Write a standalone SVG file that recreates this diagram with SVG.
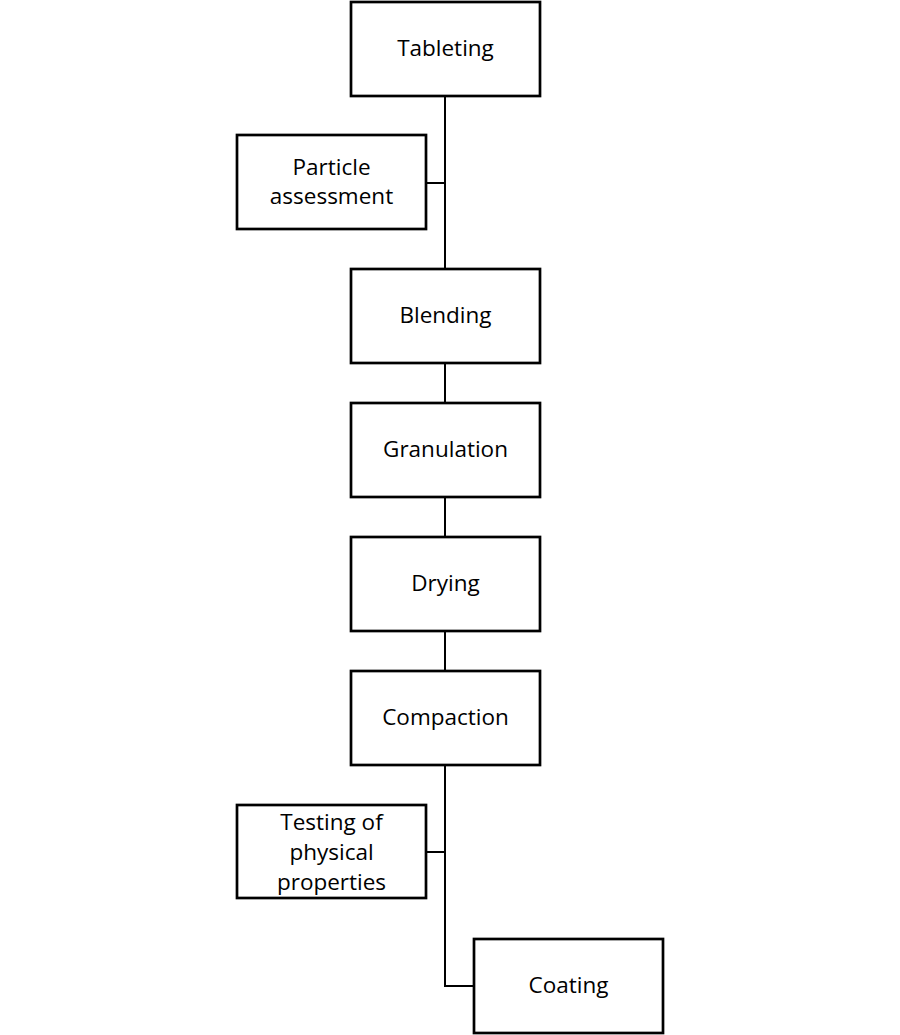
<svg xmlns="http://www.w3.org/2000/svg" width="900" height="1035" viewBox="0 0 900 1035">
<style>
.box{fill:#fff;stroke:#000;stroke-width:2.7}
.lbl{font-family:"Open Sans","Noto Sans",sans-serif;font-size:22.5px;fill:#000;text-anchor:middle;dominant-baseline:central}
.con{fill:none;stroke:#000;stroke-width:2}
</style>
<rect width="900" height="1035" fill="#fff"/>
<g id="connectors">
<path class="con" d="M445,96 V269"/>
<path class="con" d="M426,183 H445"/>
<path class="con" d="M445,363 V403"/>
<path class="con" d="M445,497 V537"/>
<path class="con" d="M445,631 V671"/>
<path class="con" d="M445,765 V986 H474"/>
<path class="con" d="M426,852 H445"/>
</g>
<g id="tableting"><rect class="box" x="351" y="2" width="189" height="94"/><text class="lbl" x="445.5" y="47">Tableting</text></g>
<g id="particle"><rect class="box" x="237" y="135" width="189" height="94"/><text class="lbl" x="331.5" y="166">Particle</text><text class="lbl" x="331.5" y="195">assessment</text></g>
<g id="blending"><rect class="box" x="351" y="269" width="189" height="94"/><text class="lbl" x="445.5" y="314">Blending</text></g>
<g id="granulation"><rect class="box" x="351" y="403" width="189" height="94"/><text class="lbl" x="445.5" y="448">Granulation</text></g>
<g id="drying"><rect class="box" x="351" y="537" width="189" height="94"/><text class="lbl" x="445.5" y="582">Drying</text></g>
<g id="compaction"><rect class="box" x="351" y="671" width="189" height="94"/><text class="lbl" x="445.5" y="716">Compaction</text></g>
<g id="testing"><rect class="box" x="237" y="805" width="189" height="93"/><text class="lbl" x="331.5" y="821">Testing of</text><text class="lbl" x="331.5" y="851">physical</text><text class="lbl" x="331.5" y="881">properties</text></g>
<g id="coating"><rect class="box" x="474" y="939" width="189" height="94"/><text class="lbl" x="568.5" y="984">Coating</text></g>
</svg>
